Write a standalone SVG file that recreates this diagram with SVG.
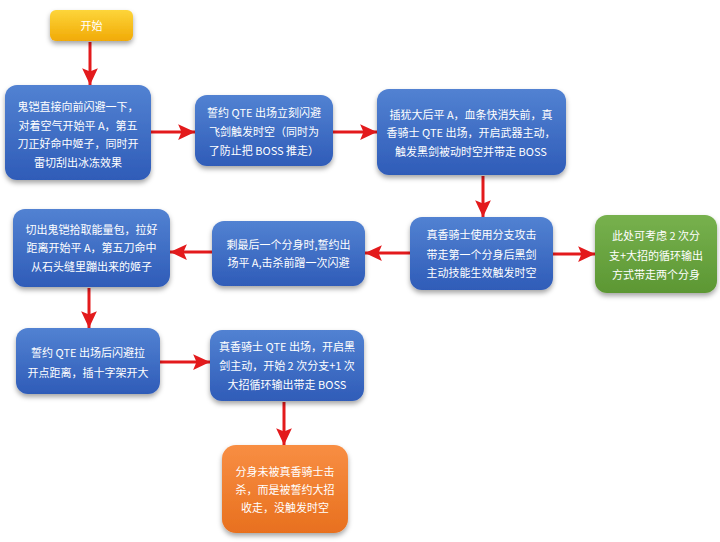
<svg xmlns="http://www.w3.org/2000/svg" width="720" height="542" viewBox="0 0 720 542">
<defs>
<linearGradient id="gBlue" x1="0" y1="0" x2="0" y2="1"><stop offset="0" stop-color="#5282d2"/><stop offset="1" stop-color="#2f5cb8"/></linearGradient>
<linearGradient id="gGreen" x1="0" y1="0" x2="0" y2="1"><stop offset="0" stop-color="#77b14e"/><stop offset="1" stop-color="#5c9733"/></linearGradient>
<linearGradient id="gOrange" x1="0" y1="0" x2="0" y2="1"><stop offset="0" stop-color="#f88e43"/><stop offset="1" stop-color="#e8701f"/></linearGradient>
<linearGradient id="gYellow" x1="0" y1="0" x2="0" y2="1"><stop offset="0" stop-color="#fdd53a"/><stop offset="1" stop-color="#f1aa06"/></linearGradient>
<filter id="sh" x="-20%" y="-20%" width="140%" height="150%"><feDropShadow dx="0" dy="3" stdDeviation="2.5" flood-color="#000" flood-opacity="0.35"/></filter>
<marker id="ah" markerUnits="userSpaceOnUse" markerWidth="18" markerHeight="18" refX="15" refY="8" orient="auto" viewBox="0 0 16 16">
<path d="M0,1 L15,8 L0,15 L3,8 Z" fill="#e31a1c"/>
</marker>
<style>
.box{filter:url(#sh)}
.t{font-family:"Noto Sans CJK SC","Noto Sans",sans-serif;font-size:11px;fill:#ffffff;text-anchor:middle}
.c{stroke:#e31a1c;stroke-width:3;fill:none;marker-end:url(#ah)}
</style>
</defs>
<rect width="720" height="542" fill="#ffffff"/>
<g id="connectors">
<line class="c" x1="90" y1="42" x2="90" y2="85"/>
<line class="c" x1="151" y1="132" x2="195" y2="132"/>
<line class="c" x1="333" y1="132" x2="377" y2="132"/>
<line class="c" x1="483" y1="176" x2="483" y2="217"/>
<line class="c" x1="553" y1="254" x2="595" y2="254"/>
<line class="c" x1="410" y1="253" x2="365" y2="253"/>
<line class="c" x1="212" y1="252" x2="170" y2="252"/>
<line class="c" x1="89" y1="288" x2="89" y2="328"/>
<line class="c" x1="160" y1="362" x2="210" y2="362"/>
<line class="c" x1="284" y1="402" x2="284" y2="445"/>
</g>
<g id="start">
<rect class="box" x="50" y="10" width="83" height="31" rx="6" fill="url(#gYellow)"/>
<text class="t" x="91.5" y="29.5">开始</text>
</g>
<g id="n1">
<rect class="box" x="5" y="85" width="146" height="95" rx="12" fill="url(#gBlue)"/>
<text class="t" x="78" y="111">鬼铠直接向前闪避一下，</text>
<text class="t" x="78" y="130">对着空气开始平 A，第五</text>
<text class="t" x="78" y="148">刀正好命中姬子，同时开</text>
<text class="t" x="78" y="167">雷切刮出冰冻效果</text>
</g>
<g id="n2">
<rect class="box" x="195" y="95" width="138" height="71" rx="12" fill="url(#gBlue)"/>
<text class="t" x="264" y="117">誓约 QTE 出场立刻闪避</text>
<text class="t" x="264" y="136">飞剑触发时空（同时为</text>
<text class="t" x="264" y="155">了防止把 BOSS 推走）</text>
</g>
<g id="n3">
<rect class="box" x="377" y="89" width="189" height="86" rx="12" fill="url(#gBlue)"/>
<text class="t" x="471" y="119">插犹大后平 A，血条快消失前，真</text>
<text class="t" x="471" y="137">香骑士 QTE 出场，开启武器主动，</text>
<text class="t" x="471" y="156">触发黑剑被动时空并带走 BOSS</text>
</g>
<g id="n4">
<rect class="box" x="410" y="217" width="143" height="73" rx="12" fill="url(#gBlue)"/>
<text class="t" x="481.5" y="239">真香骑士使用分支攻击</text>
<text class="t" x="481.5" y="259">带走第一个分身后黑剑</text>
<text class="t" x="481.5" y="277">主动技能生效触发时空</text>
</g>
<g id="n_green">
<rect class="box" x="595" y="215" width="122" height="78" rx="12" fill="url(#gGreen)"/>
<text class="t" x="656" y="240">此处可考虑 2 次分</text>
<text class="t" x="656" y="260">支+大招的循环输出</text>
<text class="t" x="656" y="279">方式带走两个分身</text>
</g>
<g id="n5">
<rect class="box" x="212" y="221" width="153" height="65" rx="12" fill="url(#gBlue)"/>
<text class="t" x="288.5" y="249">剩最后一个分身时,誓约出</text>
<text class="t" x="288.5" y="267">场平 A,击杀前蹭一次闪避</text>
</g>
<g id="n6">
<rect class="box" x="13" y="209" width="157" height="78" rx="12" fill="url(#gBlue)"/>
<text class="t" x="91.5" y="234">切出鬼铠拾取能量包，拉好</text>
<text class="t" x="91.5" y="252">距离开始平 A，第五刀命中</text>
<text class="t" x="91.5" y="271">从石头缝里蹦出来的姬子</text>
</g>
<g id="n7">
<rect class="box" x="16" y="328" width="144" height="66" rx="12" fill="url(#gBlue)"/>
<text class="t" x="88" y="357">誓约 QTE 出场后闪避拉</text>
<text class="t" x="88" y="377">开点距离，插十字架开大</text>
</g>
<g id="n8">
<rect class="box" x="210" y="330" width="154" height="71" rx="12" fill="url(#gBlue)"/>
<text class="t" x="287" y="351">真香骑士 QTE 出场，开启黑</text>
<text class="t" x="287" y="370">剑主动，开始 2 次分支+1 次</text>
<text class="t" x="287" y="389">大招循环输出带走 BOSS</text>
</g>
<g id="n_orange">
<rect class="box" x="222" y="445" width="126" height="88" rx="14" fill="url(#gOrange)"/>
<text class="t" x="285" y="476">分身未被真香骑士击</text>
<text class="t" x="285" y="494">杀，而是被誓约大招</text>
<text class="t" x="285" y="512">收走，没触发时空</text>
</g>
</svg>
